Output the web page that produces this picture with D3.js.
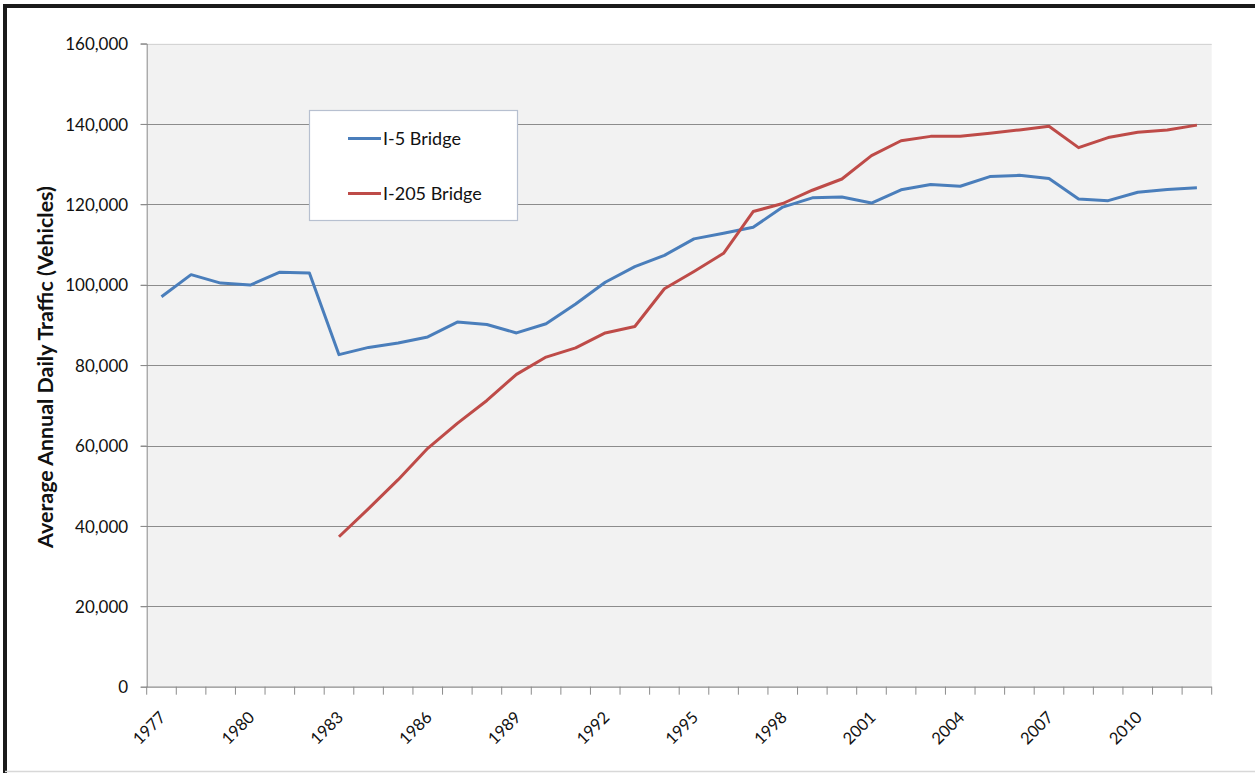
<!DOCTYPE html>
<html>
<head>
<meta charset="utf-8">
<script src="https://cdn.jsdelivr.net/npm/d3@7"></script>
<style>
  html, body { margin: 0; padding: 0; background: #fff; }
  svg { display: block; }
  text { font-family: Lato, "Open Sans", sans-serif; fill: #111; }
</style>
</head>
<body>
<svg id="chart" width="1255" height="773"></svg>
<script>
// ---- data ----
const years = [1977,1978,1979,1980,1981,1982,1983,1984,1985,1986,1987,1988,
               1989,1990,1991,1992,1993,1994,1995,1996,1997,1998,1999,2000,
               2001,2002,2003,2004,2005,2006,2007,2008,2009,2010,2011,2012];
const i5Bridge = [97000,102500,100400,99900,103100,102900,82600,84400,85500,87000,90700,90100,
                  88000,90300,95200,100600,104500,107300,111400,112800,114300,119300,121600,121800,
                  120300,123600,124900,124500,126900,127200,126400,121300,120900,123000,123700,124100];
const i205Bridge = [null,null,null,null,null,null,37300,44300,51500,59300,65500,71200,
                    77700,82000,84300,88000,89600,99000,103300,107800,118200,120200,123500,126300,
                    132100,135800,136900,136900,137700,138500,139400,134100,136600,137900,138500,139700];
const xTickLabels = [1977,1980,1983,1986,1989,1992,1995,1998,2001,2004,2007,2010];
const yTicks = [0,20000,40000,60000,80000,100000,120000,140000,160000];
const seriesNames = ["I-5 Bridge","I-205 Bridge"];
const seriesColors = ["#4a7ebb","#be4b48"];

// ---- layout ----
const svg = d3.select("#chart");
const W = 1255, H = 773;
const plot = {left: 146.7, right: 1211.7, top: 43.5, bottom: 686.7};

// frame
svg.append("rect").attr("x",0).attr("y",0).attr("width",W).attr("height",H).attr("fill","#fff");
svg.append("line").attr("x1",3).attr("x2",W).attr("y1",6).attr("y2",6).attr("stroke","#1a1a1a").attr("stroke-width",4);
svg.append("line").attr("x1",5).attr("x2",5).attr("y1",4).attr("y2",H).attr("stroke","#1a1a1a").attr("stroke-width",4);
svg.append("line").attr("x1",5).attr("x2",W).attr("y1",771.5).attr("y2",771.5).attr("stroke","#d8d8d8").attr("stroke-width",1.5);

const x = d3.scaleBand().domain(years).range([plot.left, plot.right]).padding(0);
const y = d3.scaleLinear().domain([0,160000]).range([plot.bottom, plot.top]);

// plot background
svg.append("rect").attr("x",plot.left).attr("y",plot.top)
  .attr("width",plot.right-plot.left).attr("height",plot.bottom-plot.top).attr("fill","#f2f2f2");

// gridlines
svg.append("g").selectAll("line").data(yTicks.filter(d => d>0)).join("line")
  .attr("x1",plot.left-6).attr("x2",plot.right)
  .attr("y1",d=>Math.round(y(d))+0.5).attr("y2",d=>Math.round(y(d))+0.5)
  .attr("stroke",d => d===160000 ? "#d4d4d4" : "#8c8c8c").attr("stroke-width",1.2);

// y axis
const yAxis = d3.axisLeft(y).tickValues(yTicks).tickSize(6).tickPadding(8)
  .tickFormat(d3.format(","));
const gy = svg.append("g").attr("transform",`translate(${plot.left},0)`).call(yAxis);
gy.select(".domain").attr("stroke","#8c8c8c");
gy.selectAll(".tick line").attr("stroke","#8c8c8c");
gy.selectAll(".tick text").style("font-size","17px").attr("fill","#111").attr("dy","0.36em").attr("x",-18.5);

// x axis (labels at category centres)
const xAxis = d3.axisBottom(x).tickValues(xTickLabels).tickSize(0).tickPadding(0);
const gx = svg.append("g").attr("transform",`translate(0,${plot.bottom})`).call(xAxis);
gx.select(".domain").remove();
gx.selectAll(".tick text")
  .style("font-size","16.5px").attr("fill","#111")
  .attr("text-anchor","end")
  .attr("x",0).attr("y",0).attr("dy","0.36em")
  .attr("transform","translate(1,27.5) rotate(-45)");

// x axis line + boundary ticks
svg.append("line").attr("x1",plot.left).attr("x2",plot.right)
  .attr("y1",plot.bottom+0.5).attr("y2",plot.bottom+0.5).attr("stroke","#8c8c8c").attr("stroke-width",1.2);
const bounds = years.map(d => x(d)).concat([x(years[years.length-1]) + x.bandwidth()]);
svg.append("g").selectAll("line").data(bounds).join("line")
  .attr("x1",d=>d).attr("x2",d=>d).attr("y1",plot.bottom).attr("y2",plot.bottom+8)
  .attr("stroke","#8c8c8c").attr("stroke-width",1);

// lines
const cx = d => x(d) + x.bandwidth()/2;
const line = d3.line().defined(d => d.v !== null).x(d => cx(d.year)).y(d => y(d.v));
[i5Bridge, i205Bridge].forEach((vals, k) => {
  const pts = years.map((yr,i) => ({year: yr, v: vals[i]}));
  svg.append("path").datum(pts).attr("d", line)
    .attr("fill","none").attr("stroke",seriesColors[k]).attr("stroke-width",3)
    .attr("stroke-linejoin","round");
});

// y axis title
const title = svg.append("text")
  .attr("transform","translate(53,367) rotate(-90)")
  .attr("text-anchor","middle")
  .style("font-weight","bold").style("font-size","16px")
  .text("Average Annual Daily Traffic (Vehicles)");
const tl = title.node().getComputedTextLength();
title.style("font-size", (16*362/tl).toFixed(2)+"px");

// legend
const lg = svg.append("g");
lg.append("rect").attr("x",309.5).attr("y",110.5).attr("width",208).attr("height",110)
  .attr("fill","#ffffff").attr("stroke","#b7c0d0").attr("stroke-width",1.2);
const legY = [138.5, 193.5];
seriesNames.forEach((nm,k) => {
  lg.append("line").attr("x1",348).attr("x2",381).attr("y1",legY[k]).attr("y2",legY[k])
    .attr("stroke",seriesColors[k]).attr("stroke-width",3);
  lg.append("text").attr("x",383).attr("y",legY[k]).attr("dy","0.36em")
    .style("font-size","18px").text(nm);
});
</script>
</body>
</html>
